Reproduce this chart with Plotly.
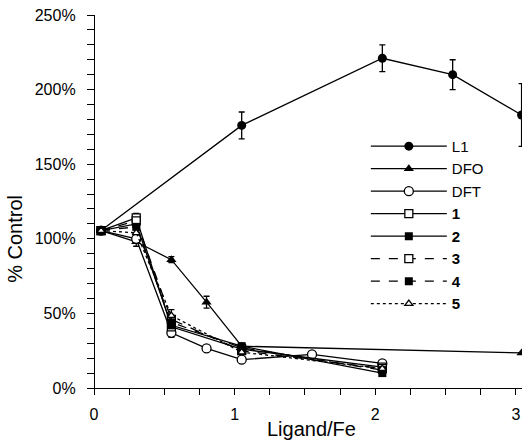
import plotly.graph_objects as go

# ---- data ----
L1_x = [0.05, 1.05, 2.05, 2.55, 3.04]
L1_y = [105.5, 176, 221, 210, 183]
L1_e = [0, 9, 9, 10, 21]

DFO_x = [0.05, 0.3, 0.55, 0.8, 1.05, 3.04]
DFO_y = [105.5, 98, 86, 57.5, 28, 23.5]
DFO_e = [0, 3, 2, 4, 2, 0]

DFT_x = [0.05, 0.3, 0.55, 0.8, 1.05, 1.55, 2.05]
DFT_y = [105.5, 100, 37, 26.5, 19, 22.5, 16.5]
DFT_e = [0, 3, 3, 0, 0, 0, 0]

C_x = [0.05, 0.3, 0.55, 1.05, 2.05]
C1_y = [105.5, 114, 41, 26, 14]
C1_e = [0, 3, 0, 0, 0]
C2_y = [105.5, 110, 42, 28, 10]
C2_e = [0, 0, 0, 0, 2]
C3_y = [105.5, 112, 46, 25, 13]
C3_e = [0, 0, 0, 0, 0]
C4_y = [105.5, 108, 44, 27, 12]
C4_e = [0, 0, 0, 0, 0]
C5_y = [105.5, 104, 48.5, 24, 13]
C5_e = [0, 0, 4, 0, 0]

names = ["L1", "DFO", "DFT", "<b>1</b>", "<b>2</b>", "<b>3</b>", "<b>4</b>", "<b>5</b>"]

FONT = "Liberation Sans, Arial, sans-serif"
BLACK = "black"

series = [
    (L1_x, L1_y, L1_e, dict(symbol="circle", size=9, color=BLACK), "solid"),
    (DFO_x, DFO_y, DFO_e, dict(symbol="triangle-up", size=9, color=BLACK), "solid"),
    (DFT_x, DFT_y, DFT_e, dict(symbol="circle", size=9, color="white", line=dict(color=BLACK, width=1.3)), "solid"),
    (C_x, C1_y, C1_e, dict(symbol="square", size=8, color="white", line=dict(color=BLACK, width=1.3)), "solid"),
    (C_x, C2_y, C2_e, dict(symbol="square", size=8, color=BLACK), "solid"),
    (C_x, C3_y, C3_e, dict(symbol="square", size=8, color="white", line=dict(color=BLACK, width=1.3)), "dash"),
    (C_x, C4_y, C4_e, dict(symbol="square", size=8, color=BLACK), "dash"),
    (C_x, C5_y, C5_e, dict(symbol="triangle-up", size=7, color="white", line=dict(color=BLACK, width=1.3)), "dot"),
]

fig = go.Figure()
for (xs, ys, es, mk, dash), nm in zip(series, names):
    fig.add_trace(go.Scatter(
        x=xs, y=ys, name=nm, mode="lines+markers",
        line=dict(color=BLACK, width=1.3, dash=dash),
        marker=mk,
        error_y=dict(type="data", array=es, visible=True, color=BLACK, thickness=1.3, width=3),
        cliponaxis=False,
    ))

fig.update_layout(
    width=522, height=443,
    margin=dict(l=87, r=0, t=15, b=55, autoexpand=False),
    paper_bgcolor="white", plot_bgcolor="white",
    font=dict(family=FONT, color=BLACK, size=15),
    showlegend=True,
    legend=dict(
        x=0.641, y=0.692, xanchor="left", yanchor="top",
        bgcolor="rgba(0,0,0,0)", borderwidth=0,
        font=dict(family=FONT, size=15, color=BLACK),
        itemwidth=76, tracegroupgap=0,
    ),
    xaxis=dict(
        range=[-0.05, 3.043], showgrid=False, zeroline=False, automargin=False,
        showline=True, linecolor=BLACK, linewidth=1.3,
        tickmode="array", tickvals=[0, 1, 2, 3], ticktext=["0", "1", "2", "3"],
        ticks="outside", ticklen=6, tickwidth=1.3, tickcolor=BLACK,
        minor=dict(tickmode="linear", tick0=0, dtick=0.25, ticks="outside", ticklen=6, tickwidth=1.3, tickcolor=BLACK),
        tickfont=dict(family=FONT, size=16, color=BLACK),
        ticklabelstandoff=6,
    ),
    yaxis=dict(
        range=[0, 250], showgrid=False, zeroline=False, automargin=False,
        anchor="free", position=7 / 435,
        showline=True, linecolor=BLACK, linewidth=1.3,
        tickmode="linear", tick0=0, dtick=50, ticksuffix="%",
        ticks="outside", ticklen=7, tickwidth=1.3, tickcolor=BLACK,
        minor=dict(tickmode="linear", tick0=0, dtick=10, ticks="outside", ticklen=7, tickwidth=1.3, tickcolor=BLACK),
        tickfont=dict(family=FONT, size=16, color=BLACK),
        ticklabelstandoff=8,
    ),
    annotations=[
        dict(text="% Control", xref="paper", yref="paper", x=-0.1655, y=0.40,
             xanchor="center", yanchor="middle", textangle=-90, showarrow=False,
             font=dict(family=FONT, size=20, color=BLACK)),
        dict(text="Ligand/Fe", xref="paper", yref="paper", x=0.515, y=-0.109,
             xanchor="center", yanchor="middle", showarrow=False,
             font=dict(family=FONT, size=20, color=BLACK)),
    ],
)

fig.write_html(
    "out.html",
    config={"displayModeBar": False},
    post_script="document.body.style.margin='0';document.body.style.padding='0';",
)
